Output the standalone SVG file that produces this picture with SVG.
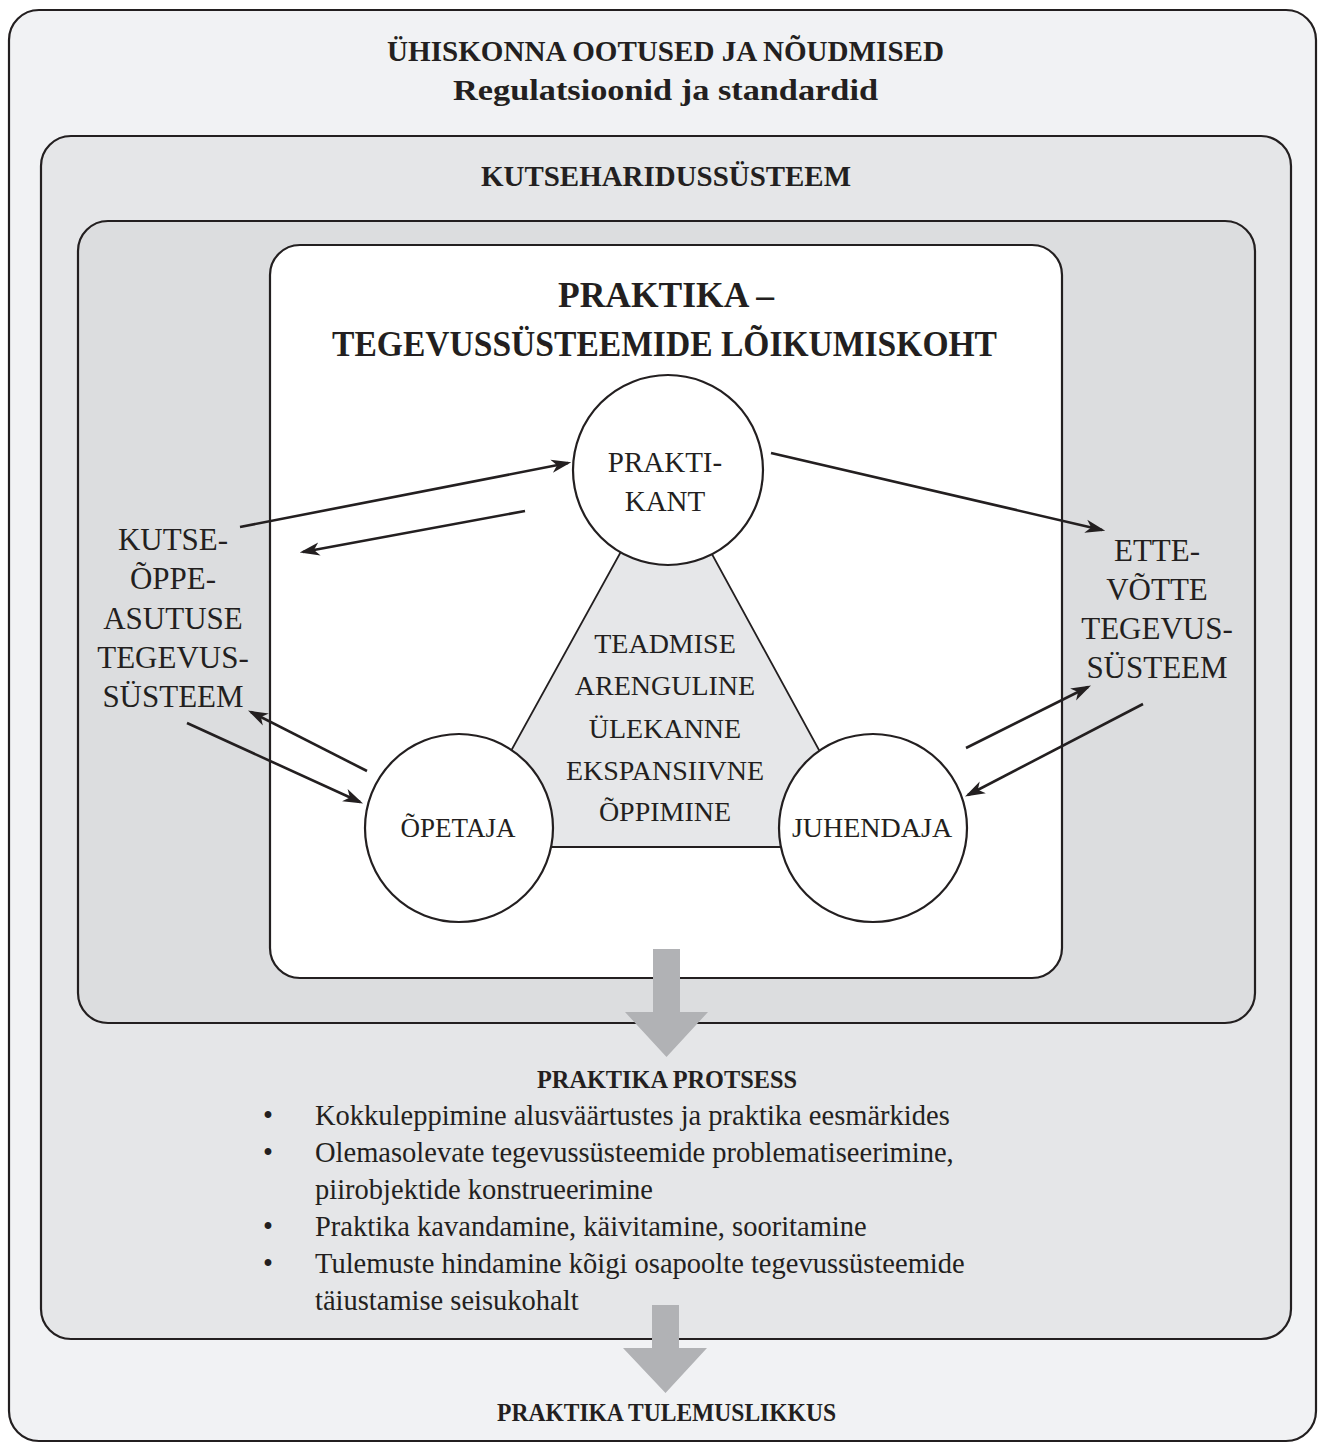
<svg xmlns="http://www.w3.org/2000/svg" width="1325" height="1451" viewBox="0 0 1325 1451">
<defs>
<style>
.box{stroke:#231f20;stroke-width:2.2}
.t{font-family:"Liberation Serif","Times New Roman",serif;fill:#231f20;text-anchor:middle}
.b{font-weight:bold}
.l{text-anchor:start}
.conn{stroke:#231f20;stroke-width:2.6;fill:none;marker-end:url(#ah)}
.circ{fill:#fff;stroke:#231f20;stroke-width:2.2}
.big{fill:#b1b2b5}
</style>
<marker id="ah" markerUnits="userSpaceOnUse" markerWidth="20" markerHeight="14" viewBox="0 0 18 12" refX="15" refY="6" orient="auto">
<path d="M0,0 L18,6 L0,12 L5,6 z" fill="#231f20"/>
</marker>
</defs>
<rect width="1325" height="1451" fill="#fff"/>
<g id="society">
<rect class="box" x="9" y="10" width="1307" height="1431" rx="30" fill="#f1f2f4"/>
<text class="t b" x="665.5" y="61" font-size="29" textLength="557" lengthAdjust="spacingAndGlyphs">ÜHISKONNA OOTUSED JA NÕUDMISED</text>
<text class="t b" x="665.5" y="100" font-size="29" textLength="425" lengthAdjust="spacingAndGlyphs">Regulatsioonid ja standardid</text>
</g>
<g id="vet-system">
<rect class="box" x="41" y="136" width="1250" height="1203" rx="30" fill="#e5e6e8"/>
<text class="t b" x="666" y="186" font-size="29" textLength="370" lengthAdjust="spacingAndGlyphs">KUTSEHARIDUSSÜSTEEM</text>
</g>
<g id="activity-area">
<rect class="box" x="78" y="221" width="1177" height="802" rx="30" fill="#dcdddf"/>
</g>
<g id="practice">
<rect class="box" x="270" y="245" width="792" height="733" rx="30" fill="#fff"/>
<text class="t b" x="666" y="307" font-size="35" textLength="216" lengthAdjust="spacingAndGlyphs">PRAKTIKA –</text>
<text class="t b" x="664.5" y="356" font-size="35" textLength="665" lengthAdjust="spacingAndGlyphs">TEGEVUSSÜSTEEMIDE LÕIKUMISKOHT</text>
</g>
<g id="knowledge-triangle">
<polygon points="666,470 458,847 872,847" fill="#e6e7e9" stroke="#231f20" stroke-width="1.8"/>
<text class="t" font-size="28"><tspan x="665" y="653">TEADMISE</tspan><tspan x="665" y="695">ARENGULINE</tspan><tspan x="665" y="738">ÜLEKANNE</tspan><tspan x="665" y="780">EKSPANSIIVNE</tspan><tspan x="665" y="821">ÕPPIMINE</tspan></text>
</g>
<g id="praktikant">
<circle class="circ" cx="668" cy="470" r="95"/>
<text class="t" font-size="29"><tspan x="665" y="472">PRAKTI-</tspan><tspan x="665" y="511">KANT</tspan></text>
</g>
<g id="opetaja">
<circle class="circ" cx="459" cy="828" r="94"/>
<text class="t" x="458" y="837" font-size="27">ÕPETAJA</text>
</g>
<g id="juhendaja">
<circle class="circ" cx="873" cy="828" r="94"/>
<text class="t" x="872" y="837" font-size="28">JUHENDAJA</text>
</g>
<g id="school-system">
<text class="t" font-size="31"><tspan x="173" y="550">KUTSE-</tspan><tspan x="173" y="589">ÕPPE-</tspan><tspan x="173" y="629">ASUTUSE</tspan><tspan x="173" y="668">TEGEVUS-</tspan><tspan x="173" y="707">SÜSTEEM</tspan></text>
</g>
<g id="enterprise-system">
<text class="t" font-size="31"><tspan x="1157" y="561">ETTE-</tspan><tspan x="1157" y="600">VÕTTE</tspan><tspan x="1157" y="639">TEGEVUS-</tspan><tspan x="1157" y="678">SÜSTEEM</tspan></text>
</g>
<g id="connectors">
<line class="conn" x1="240" y1="527" x2="568" y2="463"/>
<line class="conn" x1="525" y1="511" x2="303" y2="552"/>
<line class="conn" x1="367" y1="771" x2="251" y2="712"/>
<line class="conn" x1="187" y1="723" x2="360" y2="802"/>
<line class="conn" x1="771" y1="453" x2="1102" y2="530"/>
<line class="conn" x1="966" y1="748" x2="1088" y2="687"/>
<line class="conn" x1="1143" y1="704" x2="968" y2="795"/>
<polygon class="big" points="653,949 680,949 680,1012 708,1012 666.5,1057 625,1012 653,1012"/>
<polygon class="big" points="652,1305 679,1305 679,1348 707,1348 665.5,1393 623,1348 652,1348"/>
</g>
<g id="process">
<text class="t b" x="667" y="1088" font-size="25" textLength="260" lengthAdjust="spacingAndGlyphs">PRAKTIKA PROTSESS</text>
<g class="t l" font-size="28.5">
<text x="263" y="1125">•</text>
<text x="315" y="1125">Kokkuleppimine alusväärtustes ja praktika eesmärkides</text>
<text x="263" y="1162">•</text>
<text x="315" y="1162">Olemasolevate tegevussüsteemide problematiseerimine,</text>
<text x="315" y="1199">piirobjektide konstrueerimine</text>
<text x="263" y="1236">•</text>
<text x="315" y="1236">Praktika kavandamine, käivitamine, sooritamine</text>
<text x="263" y="1273">•</text>
<text x="315" y="1273">Tulemuste hindamine kõigi osapoolte tegevussüsteemide</text>
<text x="315" y="1310">täiustamise seisukohalt</text>
</g>
</g>
<g id="outcome">
<text class="t b" x="666.5" y="1421" font-size="25" textLength="339" lengthAdjust="spacingAndGlyphs">PRAKTIKA TULEMUSLIKKUS</text>
</g>
</svg>
